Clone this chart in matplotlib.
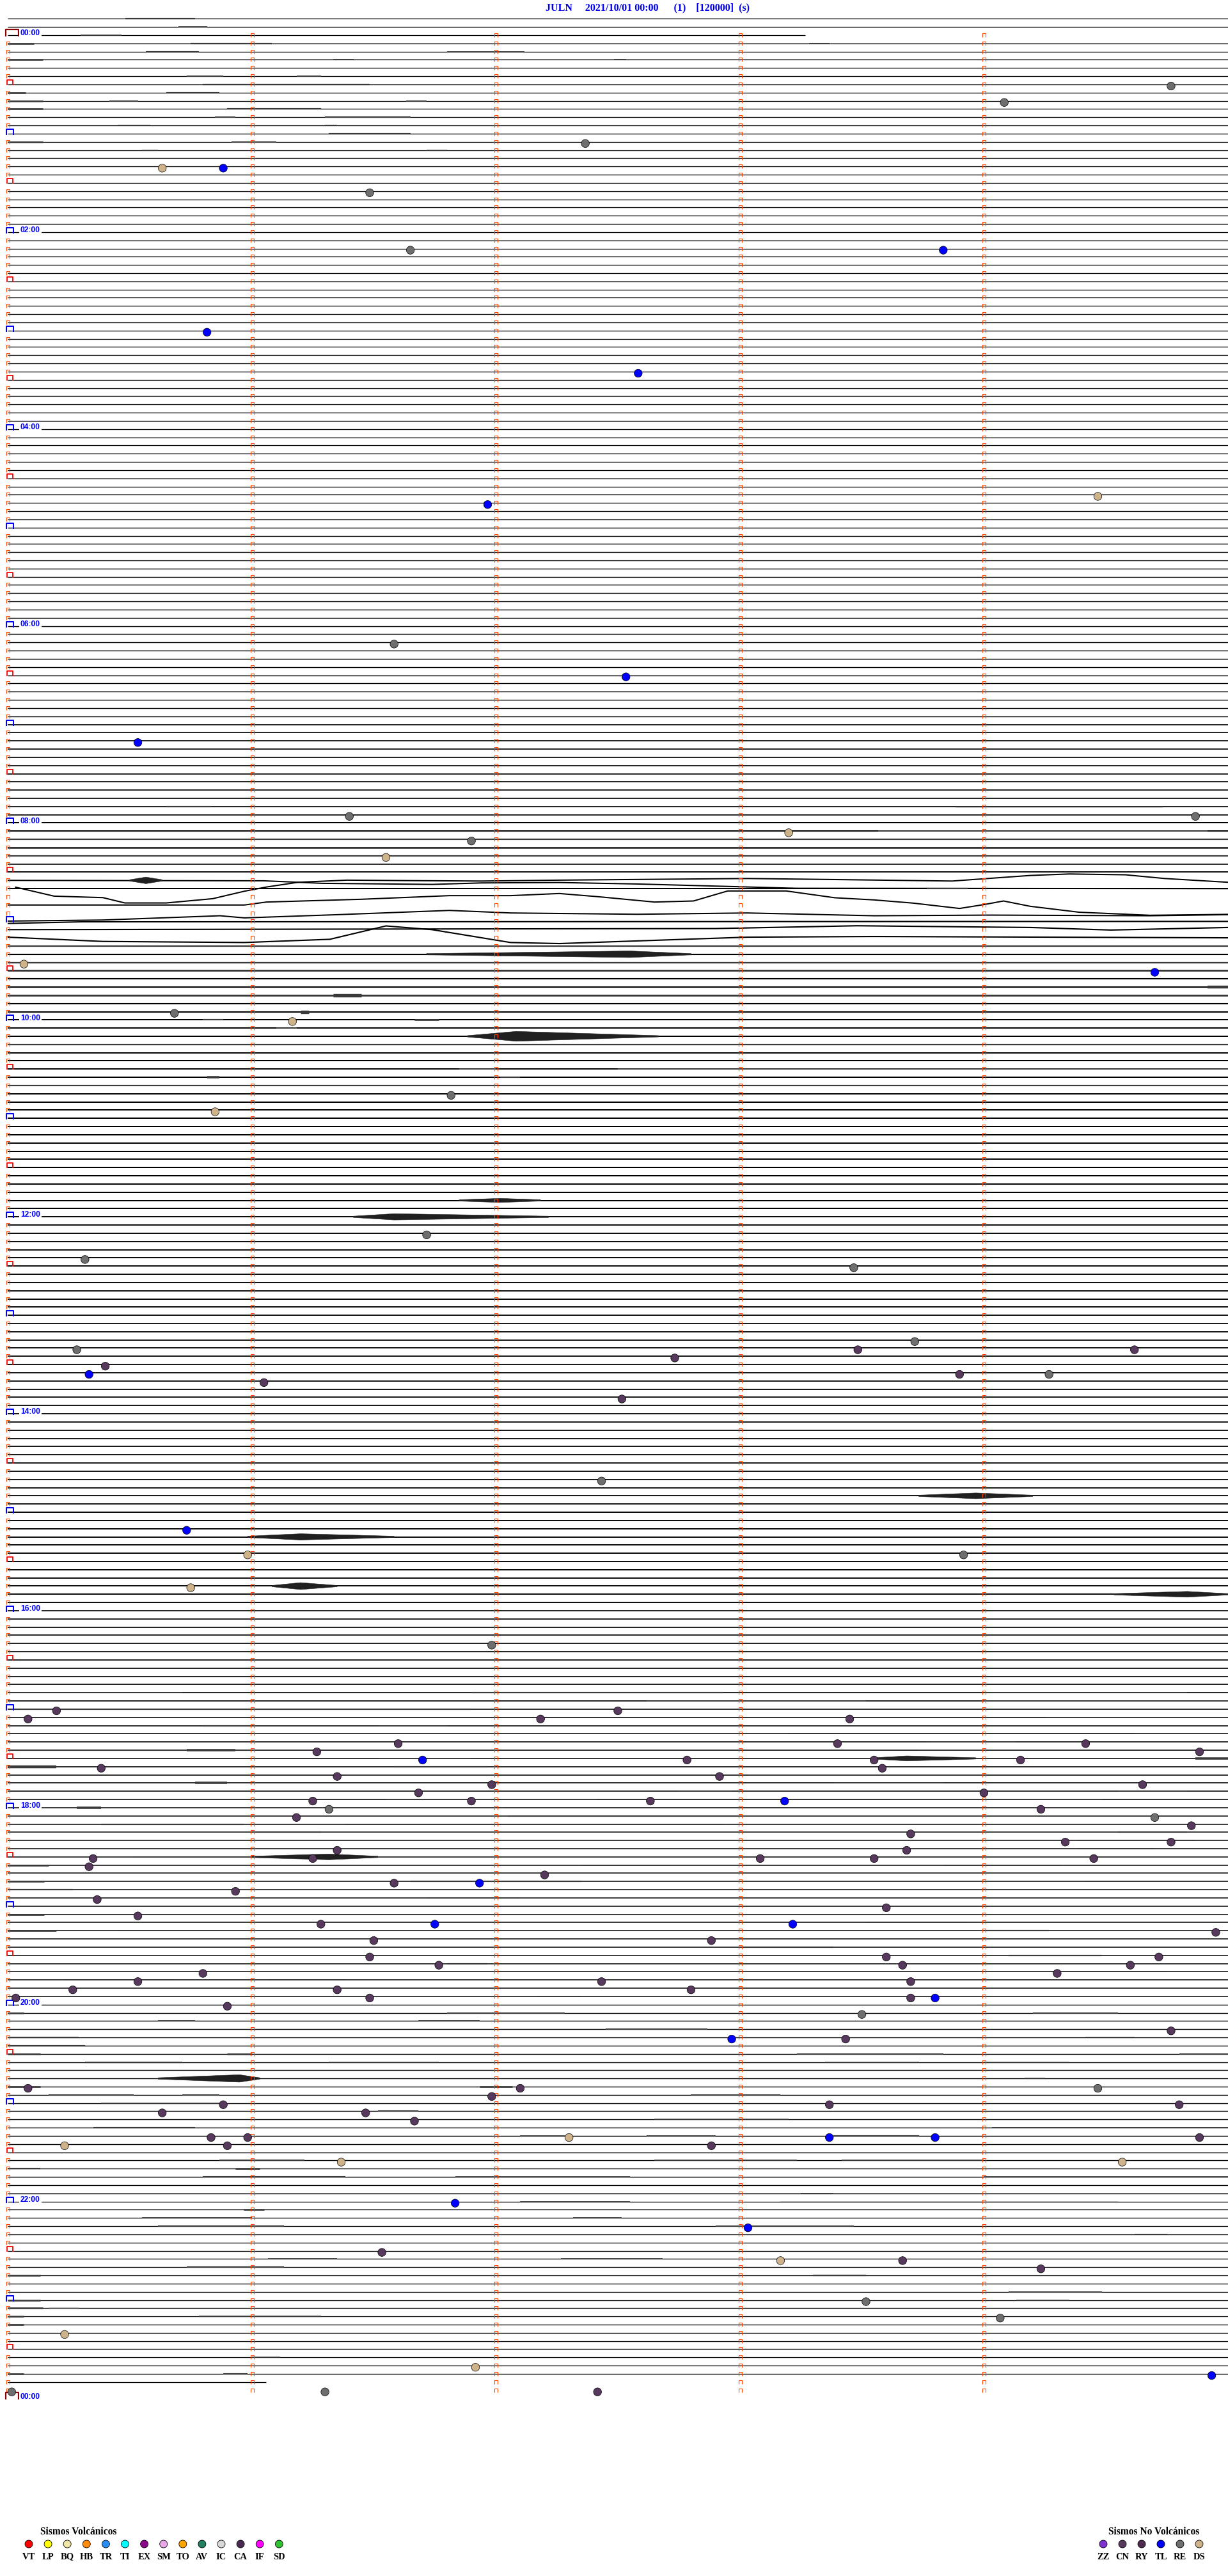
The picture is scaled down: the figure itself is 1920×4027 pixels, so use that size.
import matplotlib.pyplot as plt
from matplotlib.path import Path
from matplotlib.collections import LineCollection, PolyCollection

plt.rcParams['font.family'] = ['Liberation Serif', 'DejaVu Serif']

# ---- header ----
station = 'JULN'
start_time = '2021/10/01 00:00'
header_rest = '(1)    [120000]  (s)'

# ---- trace layout: one row = 5 min, marks every minute ----
line_seconds = 300
minute_marks = [0, 60, 120, 180, 240]
first_row, last_row = -2, 286
row_end = {0: 196, 286: 63.5}          # rows where the record stops early

# baseline thickness (px) read per hour of the day
hour_width_px = [1.3, 1.3, 1.3, 1.3, 1.3, 1.4, 1.4, 1.7, 2.0, 2.1, 2.0, 2.0,
                 1.9, 1.8, 1.8, 1.9, 1.7, 1.6, 1.5, 1.5, 1.4, 1.4, 1.3, 1.3]

# long-period drift 08:15-09:15 : row -> (minute in row, offset in rows)
drift = {
    103: ([0, 1.05, 1.29, 1.74, 1.94, 2.26, 2.58, 3.23, 5.0],
          [0, 0.05, 0.36, 0.49, 0.31, 0.26, 0.44, 0.96, 1.01]),
    105: ([0.03, 0.19, 0.39, 0.48, 0.65, 0.84, 0.97, 1.06, 1.19, 1.39, 1.61,
           1.94, 2.26, 3.03, 3.23, 3.87, 4.19, 4.35, 4.58, 4.74, 5.0],
          [-1.19, -0.08, 0.1, 0.75, 0.75, 0.23, -0.68, -1.19, -1.77, -2.03,
           -1.98, -1.92, -2.03, -2.23, -2.16, -1.92, -2.6, -2.78, -2.68, -2.23, -1.77]),
    106: ([0, 0.97, 1.06, 1.45, 1.81, 2.06, 2.26, 2.42, 2.65, 2.81, 2.95, 3.19,
           3.39, 3.55, 3.71, 3.9, 4.0, 4.08, 4.19, 4.39, 4.68, 5.0],
          [0, 0, -0.36, -0.7, -1.14, -1.14, -1.4, -1.01, -0.36, -0.49, -1.71,
           -1.71, -0.88, -0.62, -0.23, 0.42, -0.05, -0.49, 0.16, 0.88, 1.25, 1.14]),
    107: ([0, 0.39, 0.87, 0.97, 1.35, 1.81, 2.06, 2.58, 3.03, 3.55, 4.03, 4.68, 5.0],
          [0.96, 0.83, 0.31, 0.57, 0.18, -0.34, -0.03, 0.13, -0.03, 0.31, 0.23, 0.31, 0.18]),
    108: ([0, 0.3, 5.0], [0.25, 0.05, 0]),
    109: ([0, 2.9, 3.48, 4.19, 4.52, 5.0], [0, -0.13, -0.47, -0.26, 0.05, -0.26]),
    110: ([0, 0.39, 0.97, 1.32, 1.55, 1.74, 2.06, 2.26, 3.03, 3.55, 5.0],
          [-0.08, 0.44, 0.57, 0.18, -1.45, -0.99, 0.57, 0.7, -0.08, -0.16, 0]),
}

# noise stretches: (row, start s, end s, half amplitude in rows)
noise = [
    (-2, 29, 46, .12), (-1, 42, 49, .10), (0, 18, 28, .10), (1, 0, 6.5, .15), (1, 45, 65, .12),
    (1, 197, 202, .10), (2, 34, 47, .12), (2, 108, 127, .10), (3, 0, 8.6, .15), (3, 80, 85, .10),
    (3, 149, 152, .10), (5, 44, 53, .10), (5, 71, 77, .10), (6, 48, 89, .12), (7, 0, 4.4, .15),
    (7, 39, 52, .12), (8, 0, 8.6, .15), (8, 25, 32, .10), (8, 98, 103, .10), (9, 0, 8.6, .15),
    (9, 54, 77, .12), (10, 51, 56, .10), (10, 78, 99, .12), (11, 27, 35, .10), (11, 78, 81, .10),
    (12, 79, 99, .12), (13, 0, 8.6, .15), (13, 55, 66, .10), (14, 33, 37, .10), (14, 103, 108, .10),
    (94, 39, 50, .12), (94, 233, 284, .08), (97, 214, 295, .10), (98, 0, 300, .12), (99, 0, 300, .15),
    (100, 0, 300, .12), (101, 0, 300, .10), (102, 0, 300, .08), (104, 226, 236, .12),
    (111, 0, 300, .12), (113, 0, 300, .12), (114, 0, 300, .15), (116, 295, 300, .25),
    (117, 0, 300, .15), (117, 80, 87, .30), (119, 72, 74, .30), (120, 48, 53, .12),
    (120, 100, 106, .15), (121, 66, 71, .10), (123, 0, 300, .12), (126, 111, 120, .10),
    (126, 150, 300, .10), (127, 49, 52, .20), (127, 121, 126, .12), (128, 0, 300, .12),
    (202, 0, 43, .10), (202, 114, 176, .12), (202, 240, 290, .10), (203, 157, 211, .10),
    (203, 240, 300, .10), (204, 0, 114, .12), (205, 255, 300, .10), (206, 48, 60, .12),
    (206, 91, 108, .10), (207, 60, 192, .10), (207, 277, 300, .10), (208, 226, 248, .10),
    (209, 0, 60, .12), (209, 44, 56, .20), (209, 224, 240, .10), (210, 91, 114, .10),
    (210, 292, 300, .20), (211, 0, 12, .25), (211, 95, 118, .12), (211, 292, 300, .12),
    (212, 83, 120, .10), (212, 182, 240, .10), (213, 46, 54, .20), (213, 203, 230, .10),
    (214, 165, 178, .10), (214, 273, 290, .10), (215, 93, 145, .10), (215, 217, 269, .10),
    (216, 17, 23, .20), (216, 122, 192, .10), (217, 123, 180, .12), (218, 23, 58, .12),
    (218, 83, 176, .10), (219, 60, 77, .12), (219, 273, 290, .12), (220, 263, 292, .10),
    (221, 263, 282, .10), (222, 31, 60, .10), (222, 213, 240, .10), (223, 0, 10, .15),
    (223, 141, 163, .10), (223, 230, 259, .10), (225, 0, 9, .15), (225, 99, 141, .12),
    (225, 265, 300, .10), (226, 0, 16, .12), (227, 103, 126, .10), (229, 0, 9, .15),
    (230, 211, 236, .10), (231, 0, 12, .15), (231, 27, 52, .10), (231, 240, 256, .12),
    (233, 180, 203, .12), (234, 246, 269, .12), (235, 108, 118, .12), (236, 259, 285, .10),
    (237, 14, 41, .10), (237, 64, 83, .10), (239, 130, 141, .10), (241, 0, 4, .15),
    (241, 108, 137, .10), (241, 252, 273, .10), (242, 37, 46, .10), (242, 101, 116, .10),
    (243, 147, 172, .10), (244, 0, 17.5, .12), (244, 265, 277, .10), (245, 0, 19, .12),
    (246, 0, 8, .15), (246, 54, 60, .15), (246, 194, 230, .10), (246, 288, 300, .10),
    (247, 19, 43, .12), (247, 79, 106, .10), (247, 201, 224, .10), (247, 240, 261, .10),
    (249, 250, 255, .10), (250, 0, 8, .15), (250, 116, 124, .15), (251, 10, 31, .10),
    (251, 43, 52, .10), (251, 168, 190, .10), (252, 23, 52, .10), (253, 91, 101, .10),
    (254, 159, 192, .10), (255, 21, 46, .12), (255, 242, 300, .10), (256, 126, 137, .10),
    (256, 157, 174, .10), (256, 203, 224, .12), (259, 52, 73, .12), (259, 159, 194, .10),
    (259, 205, 240, .10), (260, 0, 8, .12), (260, 56, 62, .15), (261, 48, 83, .12),
    (261, 110, 153, .10), (261, 240, 300, .10), (263, 195, 203, .10), (264, 126, 153, .10),
    (264, 190, 273, .08), (265, 58, 63, .15), (266, 33, 60, .10), (266, 139, 151, .10),
    (267, 37, 68, .12), (267, 174, 208, .10), (268, 277, 285, .10), (271, 64, 81, .10),
    (271, 136, 161, .10), (272, 44, 68, .12), (273, 0, 8, .15), (273, 198, 211, .12),
    (275, 246, 269, .10), (276, 0, 8, .15), (276, 248, 261, .10), (277, 0, 8.6, .15),
    (277, 10, 17.5, .08), (278, 0, 4, .15), (278, 47, 77, .12), (279, 0, 4, .15),
    (283, 60, 67, .10), (285, 0, 4, .15), (285, 53, 59, .12),
]

# wave trains: (row, start s, peak s, end s, peak half amplitude in rows)
bursts = [
    (103, 30, 34, 38, .4), (112, 103, 153, 168, .4), (122, 113, 125, 160, .6),
    (142, 111, 121, 131, .25), (144, 85, 95, 133, .38), (178, 224, 238, 252, .35),
    (183, 59, 72, 95, .38), (189, 65, 72, 81, .42), (190, 272, 290, 300, .35),
    (210, 213, 221, 238, .3), (222, 60, 79, 91, .35), (249, 37, 57, 62, .45),
]

# classified events
event_time = [
    '00:34:46', '00:44:05', '01:07:22', '01:20:38', '01:20:53', '01:36:29', '02:11:39', '02:13:50',
    '03:00:49', '03:27:35', '04:44:28', '04:46:58', '06:11:35', '06:32:32', '07:10:32', '07:56:24',
    '07:59:52', '08:08:12', '08:11:54', '08:21:33', '09:25:04', '09:34:42', '09:55:41', '10:01:10',
    '10:46:49', '10:55:51', '12:11:43', '12:25:19', '12:33:28', '13:18:43', '13:20:17', '13:23:29',
    '13:24:37', '13:27:44', '13:30:24', '13:35:20', '13:38:54', '13:39:16', '13:41:03', '13:52:31',
    '14:42:26', '15:10:44', '15:25:59', '15:28:55', '15:45:45', '16:21:59',
    '17:00:12', '17:02:30', '17:05:05', '17:07:11', '17:08:27', '17:21:36', '17:23:24', '17:24:25',
    '17:26:16', '17:29:53', '17:31:42', '17:32:47', '17:33:33', '17:34:09', '17:35:23', '17:38:35',
    '17:41:21', '17:42:55', '17:46:59', '17:49:39', '17:51:41', '17:54:00', '17:56:15', '17:56:54',
    '17:57:38', '17:58:11', '18:01:19', '18:04:14', '18:06:11', '18:09:42', '18:14:51', '18:18:42',
    '18:24:20', '18:24:46', '18:26:21', '18:28:41', '18:30:21', '18:31:15', '18:33:05', '18:33:33',
    '18:34:27', '18:35:20', '18:42:12', '18:46:35', '18:46:56', '18:50:56', '18:55:22', '19:03:36',
    '19:05:32', '19:11:17', '19:11:45', '19:13:13', '19:19:57', '19:21:30', '19:22:53', '19:31:29',
    '19:33:36', '19:34:43', '19:36:46', '19:38:40', '19:39:36', '19:40:48', '19:44:18', '19:45:32',
    '19:47:26', '19:48:42', '19:50:16', '19:51:21', '19:52:48', '19:55:02', '19:56:29', '19:58:42',
    '19:58:48', '20:00:54', '20:08:30', '20:19:46', '20:22:58', '20:23:26', '20:50:05', '20:52:06',
    '20:54:28', '20:56:59', '21:00:53', '21:03:22', '21:04:48', '21:05:38', '21:06:28', '21:11:40',
    '21:20:50', '21:20:59', '21:22:18', '21:23:22', '21:23:48', '21:24:53', '21:25:14', '21:25:54',
    '21:27:53', '21:36:22', '21:39:34', '22:01:50', '22:18:02', '22:31:32', '22:38:10', '22:38:40',
    '22:44:14', '23:03:31', '23:14:04', '23:20:14', '23:41:55', '23:49:56', '23:55:01', '23:56:18',
    '23:57:25',
]
event_type = [
    'RE', 'RE', 'RE', 'DS', 'TL', 'RE', 'RE', 'TL',
    'TL', 'TL', 'DS', 'TL', 'RE', 'TL', 'TL', 'RE',
    'RE', 'DS', 'RE', 'DS', 'DS', 'TL', 'RE', 'DS',
    'RE', 'DS', 'RE', 'RE', 'RE', 'RE', 'RE', 'CN',
    'CN', 'CN', 'CN', 'TL', 'CN', 'RE', 'CN', 'CN',
    'RE', 'TL', 'DS', 'RE', 'DS', 'RE',
    'CN', 'CN', 'CN', 'CN', 'CN', 'CN', 'CN', 'CN',
    'CN', 'CN', 'TL', 'CN', 'CN', 'CN', 'CN', 'CN',
    'CN', 'CN', 'CN', 'CN', 'CN', 'CN', 'CN', 'CN',
    'CN', 'TL', 'RE', 'CN', 'CN', 'RE', 'CN', 'CN',
    'CN', 'CN', 'CN', 'CN', 'CN', 'CN', 'CN', 'CN',
    'CN', 'CN', 'CN', 'CN', 'TL', 'CN', 'CN', 'CN',
    'CN', 'CN', 'TL', 'TL', 'CN', 'CN', 'CN', 'CN',
    'CN', 'CN', 'CN', 'CN', 'CN', 'CN', 'CN', 'CN',
    'CN', 'CN', 'CN', 'CN', 'CN', 'CN', 'CN', 'CN',
    'TL', 'CN', 'RE', 'CN', 'TL', 'CN', 'CN', 'CN',
    'RE', 'CN', 'CN', 'CN', 'CN', 'CN', 'CN', 'CN',
    'CN', 'CN', 'DS', 'TL', 'TL', 'CN', 'DS', 'CN',
    'CN', 'DS', 'DS', 'TL', 'TL', 'CN', 'DS', 'CN',
    'CN', 'RE', 'RE', 'DS', 'DS', 'TL', 'RE', 'RE',
    'CN',
]

volc_codes = ['VT', 'LP', 'BQ', 'HB', 'TR', 'TI', 'EX', 'SM', 'TO', 'AV', 'IC', 'CA', 'IF', 'SD']
volc_colors = ['#ff0000', '#ffff00', '#efe6a6', '#ff8a10', '#2a8cf0', '#00ffff', '#8b0a8b',
               '#e8a8e8', '#ffa500', '#228060', '#d8d8d8', '#4a2a50', '#ff00ff', '#30c030']
novolc_codes = ['ZZ', 'CN', 'RY', 'TL', 'RE', 'DS']
novolc_colors = ['#7f30d0', '#57395e', '#4f2b4f', '#0000ff', '#6e6e6e', '#cdb28a']
type_color = dict(zip(volc_codes + novolc_codes, volc_colors + novolc_colors))

# ---- figure geometry (pixels) ----
W, H = 1920, 4027
ROW_Y0, ROW_H = 55, 12.828
X_LEFT, X_RIGHT = 12, 1920
PT = 0.72                      # points per pixel at dpi 100
px_per_s = (X_RIGHT - X_LEFT) / line_seconds

fig = plt.figure(figsize=(W / 100, H / 100), dpi=100)
fig.patch.set_facecolor('white')

top_row, bot_row = -3, 289.5
y_top = ROW_Y0 + top_row * ROW_H
y_bot = ROW_Y0 + bot_row * ROW_H
ax = fig.add_axes([X_LEFT / W, 1 - y_bot / H, (X_RIGHT - X_LEFT) / W, (y_bot - y_top) / H])
ax.set_xlim(0, line_seconds)
ax.set_ylim(bot_row, top_row)
ax.axis('off')


def row_width(row):
    hour = (row * 5) // 60 if row >= 0 else 23
    return hour_width_px[hour] * PT


# traces
segs, widths = [], []
for row in range(first_row, last_row + 1):
    if row in drift:
        mins, offs = drift[row]
        segs.append([(m * 60, row + o) for m, o in zip(mins, offs)])
    else:
        segs.append([(0, row), (row_end.get(row, line_seconds), row)])
    widths.append(row_width(row))
ax.add_collection(LineCollection(segs, colors='black', linewidths=widths, capstyle='butt', zorder=2))

# noise stretches (thickened, speckled parts of the trace)
nsegs = [[(t0, r), (t1, r)] for r, t0, t1, a in noise]
nw = [1.4 * a * ROW_H * PT for r, t0, t1, a in noise]
ax.add_collection(LineCollection(nsegs, colors='#3a3a3a', linewidths=nw, capstyle='butt', zorder=2))

# wave trains as envelopes
polys = []
base = 0.08
for r, t0, tp, t1, a in bursts:
    polys.append([(t0, r - base), (tp, r - a), (t1, r - base),
                  (t1, r + base), (tp, r + a), (t0, r + base)])
ax.add_collection(PolyCollection(polys, facecolors='#202020', edgecolors='#202020',
                                 linewidths=0.4, zorder=2))


# time marks
def cap(w, up, down):
    verts = [(-w / 2, -down), (-w / 2, up), (w / 2, up), (w / 2, -down)]
    path = Path(verts, [Path.MOVETO, Path.LINETO, Path.LINETO, Path.LINETO])
    return path, 2 * max(w / 2, up, down) * PT


small, small_ms = cap(5, 3, 3)
half, half_ms = cap(9, 7, 1)
hour, hour_ms = cap(11, 7, 2)
day, day_ms = cap(20, 9, 2)

marked_rows = list(range(0, 288))
col_x, col_y = [], []
for row in marked_rows:
    for k, m in enumerate(minute_marks):
        if k == 0 and row % 6 == 0:
            continue
        col_x.append(m)
        col_y.append(row)
ax.plot(col_x, col_y, ls='none', marker=small, ms=small_ms, mfc='none', mec='#ff4500',
        mew=1.1 * PT, zorder=3, clip_on=False)

half_rows = [r for r in marked_rows if r % 12 == 6]
ax.plot([2.5 / px_per_s] * len(half_rows), half_rows, ls='none', marker=half, ms=half_ms,
        mfc='none', mec='#ff0000', mew=1.8 * PT, zorder=3, clip_on=False)

hour_rows = [r for r in marked_rows if r % 12 == 0 and r % 288 != 0]
ax.plot([3 / px_per_s] * len(hour_rows), hour_rows, ls='none', marker=hour, ms=hour_ms,
        mfc='none', mec='#0000ff', mew=2.0 * PT, zorder=3, clip_on=False)

day_rows = [0, 288]
ax.plot([7 / px_per_s] * 2, day_rows, ls='none', marker=day, ms=day_ms,
        mfc='none', mec='#8b0000', mew=2.2 * PT, zorder=3, clip_on=False)

label_x = 20 / px_per_s
for h in range(0, 25, 2):
    ax.text(label_x, h * 12 - 0.22, '%02d:00' % (h % 24), color='#0000ff', fontsize=12 * PT,
            fontweight='bold', family=['Liberation Sans', 'DejaVu Sans'], ha='left', va='center',
            zorder=4, bbox=dict(boxstyle='square,pad=0.15', fc='white', ec='none'), clip_on=False)

# events
ev_x, ev_y, ev_c = [], [], []
for t, k in zip(event_time, event_type):
    hh, mm, ss = (int(v) for v in t.split(':'))
    sec = hh * 3600 + mm * 60 + ss
    row = sec // line_seconds
    ev_x.append(sec - row * line_seconds)
    ev_y.append(row + 0.2)
    ev_c.append(type_color[k])
ax.scatter(ev_x, ev_y, s=(12.5 * PT) ** 2, c=ev_c, edgecolors='black', linewidths=0.7 * PT,
           zorder=5, clip_on=False)

# ---- header and legends (pixel overlay) ----
ov = fig.add_axes([0, 0, 1, 1], zorder=-1)
ov.set_xlim(0, W)
ov.set_ylim(H, 0)
ov.axis('off')

ov.text(853, 12.5, station + '     ' + start_time + '      ' + header_rest, color='#0000ee',
        fontsize=16 * PT, fontweight='bold', ha='left', va='center')

leg_y, lab_y, title_y = 3977, 3997, 3958
vx = [45 + 30.1 * i for i in range(len(volc_codes))]
ov.scatter(vx, [leg_y] * len(vx), s=(12 * PT) ** 2, c=volc_colors, edgecolors='black',
           linewidths=0.8 * PT)
for x, code in zip(vx, volc_codes):
    ov.text(x, lab_y, code, fontsize=14.5 * PT, fontweight='bold', ha='center', va='center')
ov.text(63, title_y, 'Sismos Volcánicos', fontsize=15.5 * PT, fontweight='bold', ha='left', va='center')

nx = [1725 + 30 * i for i in range(len(novolc_codes))]
ov.scatter(nx, [leg_y] * len(nx), s=(12 * PT) ** 2, c=novolc_colors, edgecolors='black',
           linewidths=0.8 * PT)
for x, code in zip(nx, novolc_codes):
    ov.text(x, lab_y, code, fontsize=14.5 * PT, fontweight='bold', ha='center', va='center')
ov.text(1733, title_y, 'Sismos No Volcánicos', fontsize=15.5 * PT, fontweight='bold', ha='left',
        va='center')

fig.savefig('out.png', dpi=100, facecolor='white')
